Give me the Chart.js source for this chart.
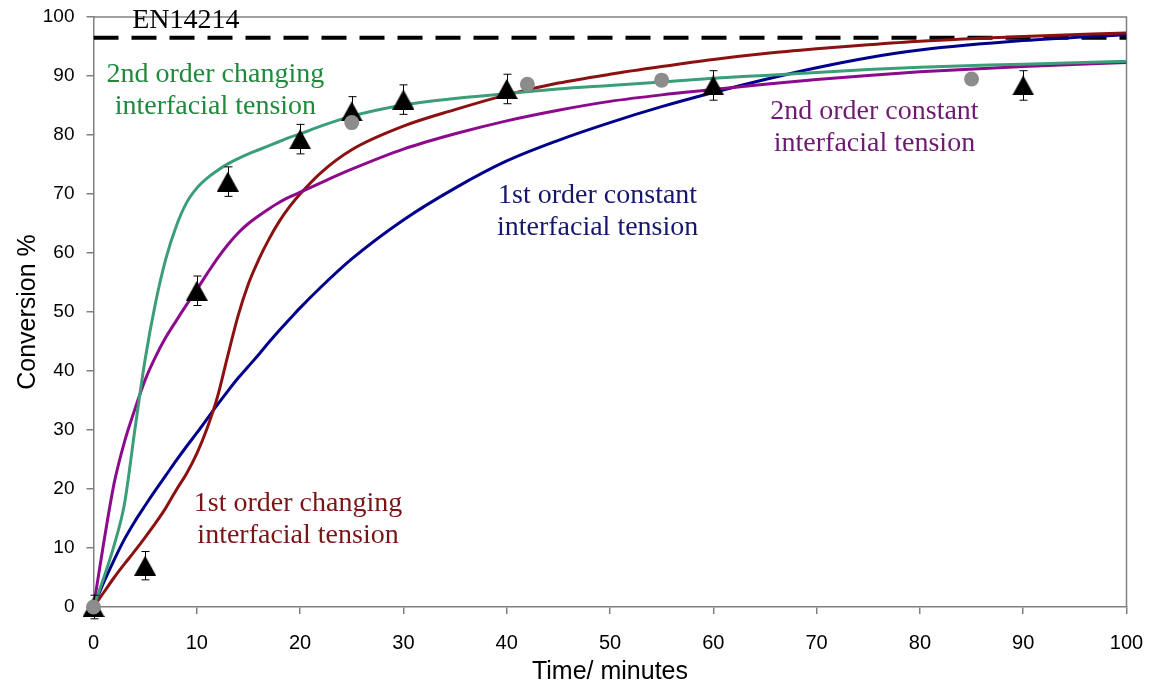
<!DOCTYPE html>
<html>
<head>
<meta charset="utf-8">
<script src="https://cdn.jsdelivr.net/npm/chart.js@4.4.1/dist/chart.umd.min.js"></script>
<style>
  html, body { margin: 0; padding: 0; background: #fff; }
  #wrap { width: 1149px; height: 687px; }
</style>
</head>
<body>
<div id="wrap"><canvas id="chart"></canvas></div>
<script>
'use strict';

// ── Daten ──
const curveTime   = [0, 1, 2, 3, 4, 5, 6, 7, 8, 9, 10, 11, 12, 13, 14, 15, 16, 17, 18, 19, 20, 22, 25, 30, 35, 40, 45, 50, 55, 60, 65, 70, 75, 80, 90, 100];
const secondChanging  = [0, 5, 10.5, 17.5, 30, 42, 51.5, 59, 64.5, 68.5, 71, 72.7, 74, 75.1, 76, 76.8, 77.5, 78.2, 78.9, 79.6, 80.2, 81.5, 83.2, 85.1, 86.2, 87, 87.8, 88.4, 89, 89.6, 90.1, 90.6, 91.1, 91.5, 92, 92.5];
const secondConstant  = [0, 11, 21, 28, 33.5, 38.5, 42.4, 45.7, 48.5, 51.2, 53.8, 56.5, 59.1, 61.4, 63.4, 65, 66.3, 67.5, 68.6, 69.5, 70.3, 71.9, 74.2, 77.6, 80.2, 82.4, 84.2, 85.7, 86.8, 87.7, 88.6, 89.4, 90.1, 90.7, 91.6, 92.3];
const firstChanging   = [0, 2.5, 5, 7.3, 9.5, 11.8, 14.2, 16.8, 19.8, 22.6, 26, 30.3, 35.6, 42.6, 49.4, 54.8, 58.9, 62.4, 65.4, 67.9, 70, 73.6, 77.5, 81.5, 84.3, 86.8, 88.8, 90.3, 91.6, 92.8, 93.8, 94.6, 95.3, 95.9, 96.7, 97.3];
const firstConstant   = [0, 4.2, 8, 11.5, 14.5, 17.2, 19.8, 22.3, 24.8, 27.2, 29.5, 31.9, 34.3, 36.6, 38.8, 40.8, 42.8, 44.9, 46.9, 48.8, 50.7, 54.2, 59, 65.6, 71, 75.6, 79.1, 82.1, 84.8, 87.2, 89.4, 91.4, 93.1, 94.4, 96, 97];

const triTime  = [0, 5, 10, 13, 20, 25, 30, 40, 60, 90];
const triConv  = [0, 7, 53.6, 72.1, 79.3, 84, 86, 87.8, 88.4, 88.4];
const triErr   = [2, 2.4, 2.5, 2.5, 2.5, 2.5, 2.5, 2.5, 2.5, 2.5];

const dotTime  = [0, 25, 42, 55, 85];
const dotConv  = [0, 82.1, 88.6, 89.3, 89.5];

const standardLimit = 96.5;   // EN14214
const xTicks = { min: 0, max: 100, step: 10 };
const yTicks = { min: 0, max: 100, step: 10 };

// ── Beschriftungen im Diagramm ──
const notes = [
  { lines: ['EN14214'], color: '#000000', x: 8.94, y: 98.1 },
  { lines: ['2nd order changing', 'interfacial tension'], color: '#1f8a3c', x: 11.8, y: 89.0 },
  { lines: ['2nd order constant', 'interfacial tension'], color: '#6e1a72', x: 75.6, y: 82.7 },
  { lines: ['1st order constant', 'interfacial tension'], color: '#16166e', x: 48.8, y: 68.5 },
  { lines: ['1st order changing', 'interfacial tension'], color: '#7a1416', x: 19.8, y: 16.3 },
];

const SANS  = '"Liberation Sans", Arial, sans-serif';
const SERIF = '"Liberation Serif", "Times New Roman", serif';
const AXIS  = '#808080';

const xy = (xs, ys) => xs.map((x, i) => ({ x, y: ys[i] }));

// Excel-Dreieck: Mittelpunkt der Box liegt auf dem Datenpunkt
function triangleMarker(w, h) {
  const c = document.createElement('canvas');
  c.width = w; c.height = h;
  const g = c.getContext('2d');
  g.fillStyle = '#000';
  g.beginPath();
  g.moveTo(w / 2, 0);
  g.lineTo(w, h);
  g.lineTo(0, h);
  g.closePath();
  g.fill();
  return c;
}

function curve(label, data, color, order) {
  return {
    type: 'line', label, data: xy(curveTime, data),
    borderColor: color, borderWidth: 3, pointRadius: 0,
    cubicInterpolationMode: 'monotone', fill: false, order,
  };
}

// ── Fehlerbalken (unter den Kreisen) ──
const errorBars = {
  id: 'errorBars',
  afterDatasetDraw(chart, args) {
    if (chart.data.datasets[args.index].label !== 'measured') return;
    const { ctx, scales: { x, y } } = chart;
    ctx.save();
    ctx.strokeStyle = '#000';
    ctx.lineWidth = 1;
    triTime.forEach((t, i) => {
      const px = Math.round(x.getPixelForValue(t)) + 0.5;
      const top = y.getPixelForValue(triConv[i] + triErr[i]);
      const bot = y.getPixelForValue(triConv[i] - triErr[i]);
      ctx.beginPath();
      ctx.moveTo(px, top); ctx.lineTo(px, bot);
      ctx.moveTo(px - 4, top); ctx.lineTo(px + 4, top);
      ctx.moveTo(px - 4, bot); ctx.lineTo(px + 4, bot);
      ctx.stroke();
    });
    ctx.restore();
  },
};

// ── Rahmen oben/rechts + Texte ──
const frameAndNotes = {
  id: 'frameAndNotes',
  beforeDatasetsDraw(chart) {
    const { ctx, chartArea: a } = chart;
    ctx.save();
    ctx.strokeStyle = AXIS;
    ctx.lineWidth = 1.5;
    ctx.beginPath();
    ctx.moveTo(a.left, a.top); ctx.lineTo(a.right, a.top); ctx.lineTo(a.right, a.bottom);
    ctx.stroke();
    ctx.restore();
  },
  afterDraw(chart) {
    const { ctx, scales: { x, y } } = chart;
    ctx.save();
    ctx.font = '28px ' + SERIF;
    ctx.textAlign = 'center';
    ctx.textBaseline = 'alphabetic';
    notes.forEach(n => {
      ctx.fillStyle = n.color;
      n.lines.forEach((line, i) => {
        ctx.fillText(line, x.getPixelForValue(n.x), y.getPixelForValue(n.y) + i * 32);
      });
    });
    ctx.restore();
  },
};

new Chart(document.getElementById('chart'), {
  type: 'scatter',
  data: {
    datasets: [
      {
        label: 'dots', data: xy(dotTime, dotConv), showLine: false,
        pointRadius: 7.5, pointBackgroundColor: '#8c8c8c', pointBorderWidth: 0,
        clip: false, order: 0,
      },
      {
        label: 'measured', data: xy(triTime, triConv), showLine: false,
        pointStyle: triangleMarker(22, 20), clip: false, order: 1,
      },
      curve('2nd order changing', secondChanging, '#3b9e78', 2),
      curve('2nd order constant', secondConstant, '#8c0a8c', 3),
      curve('1st order changing', firstChanging, '#8c1212', 4),
      curve('1st order constant', firstConstant, '#00008c', 5),
      {
        type: 'line', label: 'EN14214',
        data: [{ x: xTicks.min, y: standardLimit }, { x: xTicks.max, y: standardLimit }],
        borderColor: '#000', borderWidth: 4, borderDash: [25, 13],
        pointRadius: 0, fill: false, order: 6,
      },
    ],
  },
  options: {
    responsive: true,
    maintainAspectRatio: false,
    animation: false,
    layout: { padding: { top: 17, right: 22.5, left: 0, bottom: 0 } },
    plugins: { legend: { display: false }, tooltip: { enabled: false } },
    scales: {
      x: {
        type: 'linear', min: xTicks.min, max: xTicks.max,
        ticks: { stepSize: xTicks.step, color: '#000', padding: 17, font: { family: SANS, size: 20 } },
        grid: { drawOnChartArea: false, drawTicks: true, tickLength: 7, color: AXIS, lineWidth: 1.5 },
        border: { color: AXIS, width: 1.5 },
        title: { display: true, text: 'Time/ minutes', color: '#000', font: { family: SANS, size: 25 }, padding: { top: 0, bottom: 0 } },
        afterFit: s => { s.height = 80; s.paddingLeft = 0; s.paddingRight = 0; },
      },
      y: {
        min: yTicks.min, max: yTicks.max,
        ticks: { stepSize: yTicks.step, color: '#000', padding: 12, font: { family: SANS, size: 19 } },
        grid: { drawOnChartArea: false, drawTicks: true, tickLength: 7, color: AXIS, lineWidth: 1.5 },
        border: { color: AXIS, width: 1.5 },
        title: { display: true, text: 'Conversion %', color: '#000', font: { family: SANS, size: 25 }, padding: { top: 13, bottom: 0 } },
        afterFit: s => { s.width = 93.5; s.paddingTop = 0; s.paddingBottom = 0; },
      },
    },
  },
  plugins: [errorBars, frameAndNotes],
});
</script>
</body>
</html>
